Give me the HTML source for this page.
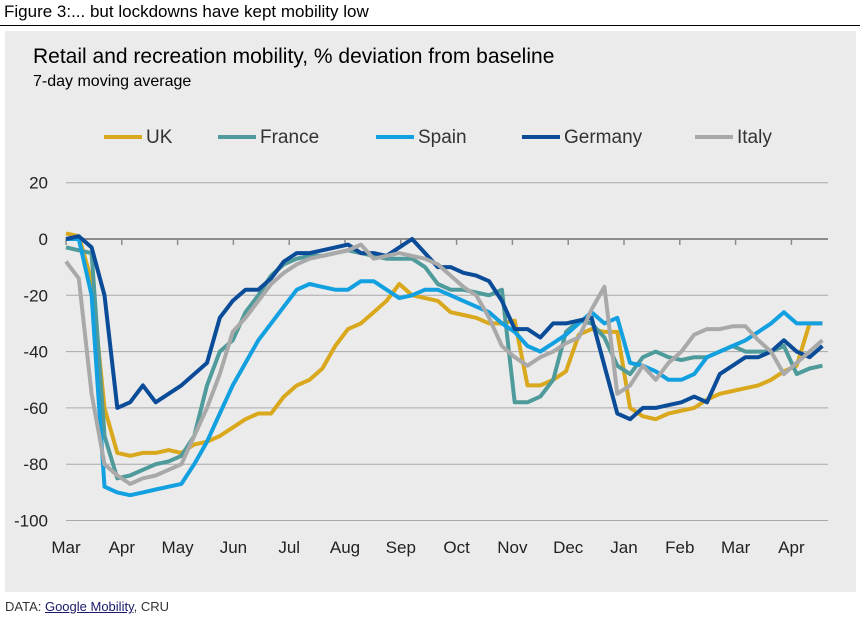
<!DOCTYPE html>
<html><head><meta charset="utf-8"><style>
body{margin:0;width:860px;height:625px;background:#fff;font-family:"Liberation Sans",sans-serif;position:relative;overflow:hidden}
#fig{position:absolute;left:4px;top:2px;font-size:17px;color:#000}
#rule{position:absolute;left:0;top:25px;width:860px;height:1px;background:#000}
#panel{position:absolute;left:5px;top:31px;width:851px;height:561px;background:#ebebeb}
#src{position:absolute;left:5px;top:599px;font-size:13px;color:#333}
#src a{color:#1a1a6a;text-decoration:underline}
</style></head><body>
<div id="fig">Figure 3:... but lockdowns have kept mobility low</div>
<div id="rule"></div>
<div id="panel"></div>
<svg id="chart" width="860" height="625" style="position:absolute;left:0;top:0">
<text x="33" y="63" font-size="21" fill="#000">Retail and recreation mobility, % deviation from baseline</text>
<text x="33" y="86" font-size="16" fill="#000">7-day moving average</text>
<g id="grid"></g><g id="ylab"></g><g id="xlab"></g><g id="lines"></g><g id="legend"></g>
</svg>
<div id="src">DATA: <a>Google Mobility</a>, CRU</div>
<script>
const months=["Mar","Apr","May","Jun","Jul","Aug","Sep","Oct","Nov","Dec","Jan","Feb","Mar","Apr"];
const yTicks=[20,0,-20,-40,-60,-80,-100];
const names=["UK","France","Spain","Germany","Italy"];
const colors=["#d9a81c","#4f9a9a","#12a0e0","#0a4c98","#a9a9a9"];
const uk=[2,1,-15,-60,-76,-77,-76,-76,-75,-76,-73,-72,-70,-67,-64,-62,-62,-56,-52,-50,-46,-38,-32,-30,-26,-22,-16,-20,-21,-22,-26,-27,-28,-30,-30,-29,-52,-52,-50,-47,-34,-32,-33,-33,-60,-63,-64,-62,-61,-60,-57,-55,-54,-53,-52,-50,-47,-45,-30,-30];
const france=[-3,-4,-5,-70,-85,-84,-82,-80,-79,-77,-70,-52,-40,-36,-26,-20,-13,-9,-7,-6,-6,-5,-4,-5,-6,-7,-7,-7,-10,-16,-18,-18,-19,-20,-18,-58,-58,-56,-50,-33,-29,-30,-35,-45,-48,-42,-40,-42,-43,-42,-42,-40,-38,-40,-40,-40,-38,-48,-46,-45];
const spain=[0,0,-20,-88,-90,-91,-90,-89,-88,-87,-80,-72,-62,-52,-44,-36,-30,-24,-18,-16,-17,-18,-18,-15,-15,-18,-21,-20,-18,-18,-20,-22,-24,-26,-30,-33,-38,-40,-37,-34,-30,-26,-30,-28,-44,-45,-47,-50,-50,-48,-42,-40,-38,-36,-33,-30,-26,-30,-30,-30];
const germany=[0,1,-3,-20,-60,-58,-52,-58,-55,-52,-48,-44,-28,-22,-18,-18,-14,-8,-5,-5,-4,-3,-2,-5,-5,-6,-3,0,-5,-10,-10,-12,-13,-15,-22,-32,-32,-35,-30,-30,-29,-28,-45,-62,-64,-60,-60,-59,-58,-56,-58,-48,-45,-42,-42,-40,-36,-40,-42,-38];
const italy=[-8,-14,-55,-80,-84,-87,-85,-84,-82,-80,-70,-60,-48,-33,-28,-22,-16,-12,-9,-7,-6,-5,-4,-2,-7,-6,-5,-6,-7,-9,-13,-17,-20,-28,-38,-42,-45,-42,-40,-37,-35,-25,-17,-55,-52,-45,-50,-44,-40,-34,-32,-32,-31,-31,-36,-40,-48,-44,-40,-36];
const series=[uk,france,spain,germany,italy];
const ns="http://www.w3.org/2000/svg";
const X0=66,X1=828,wk=12.82;
const xw=i=>X0+i*wk;
const yv=v=>239-v*2.815;
function mk(t,a,p){const e=document.createElementNS(ns,t);for(const k in a)e.setAttribute(k,a[k]);p.appendChild(e);return e;}
const grid=document.getElementById('grid'),yl=document.getElementById('ylab'),xl=document.getElementById('xlab');
yTicks.forEach(v=>{
 const l=mk('line',{x1:X0,x2:X1,y1:yv(v),y2:yv(v),stroke:v===0?'#8c8c8c':'#a9a9a9','stroke-width':v===0?2:1},grid);
 
 
 const t=mk('text',{x:48,y:yv(v)+6,'text-anchor':'end','font-size':17,fill:'#222'},yl);
 t.textContent=v;
 
 
});
months.forEach((m,i)=>{
 const x=X0+i*55.8;
 const tk=mk('line',{x1:x,x2:x,y1:239,y2:245,stroke:'#8c8c8c','stroke-width':1.5},grid);
 
 
 const t=mk('text',{x:x,y:553,'text-anchor':'middle','font-size':17,fill:'#222'},xl);
 t.textContent=m;
 
 
});
const lg=document.getElementById('lines');
series.forEach((s,k)=>{
 const d=s.map((v,i)=>(i?'L':'M')+xw(i).toFixed(1)+' '+yv(v).toFixed(1)).join('');
 const p=mk('path',{d:d,fill:'none',stroke:colors[k],'stroke-width':4,'stroke-linejoin':'round'},lg);
 
 
});
const lx=[104,218,376,522,695];
const leg=document.getElementById('legend');
names.forEach((n,k)=>{
 const g=mk('g',{},leg);
 
 
 mk('line',{x1:lx[k],x2:lx[k]+38,y1:137,y2:137,stroke:colors[k],'stroke-width':4},g);
 const t=mk('text',{x:lx[k]+42,y:143,'font-size':19,fill:'#333'},g);
 t.textContent=n;
});
</script>
</body></html>
